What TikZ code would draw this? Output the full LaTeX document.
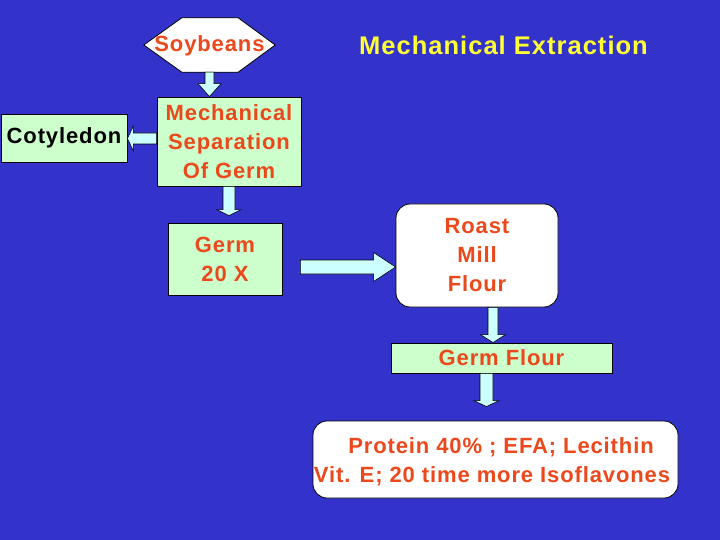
\documentclass[tikz,border=0pt]{standalone}
\usepackage{fontspec}
\setmainfont{Liberation Sans}[LetterSpace=4]
\usetikzlibrary{calc}
\definecolor{bg}{RGB}{51,51,204}
\definecolor{txtred}{RGB}{235,72,28}
\definecolor{boxgreen}{RGB}{204,255,204}
\definecolor{arrcyan}{RGB}{204,255,255}
\definecolor{ttl}{RGB}{255,255,51}
\newcommand\vblockarrow[5]{%
  \draw[blockarrow] let \p1=(#1), \p2=(#2) in
    (\x1-#3,\y1) -- (\x1-#3,\y2+#5) -- (\x1-#4,\y2+#5) -- (\x1,\y2) --
    (\x1+#4,\y2+#5) -- (\x1+#3,\y2+#5) -- (\x1+#3,\y1) -- cycle;}
\newcommand\hblockarrow[5]{%
  \draw[blockarrow] let \p1=(#1), \p2=(#2) in
    (\x1,\y1-#3) -- (\x2-#5,\y1-#3) -- (\x2-#5,\y1-#4) -- (\x2,\y1) --
    (\x2-#5,\y1+#4) -- (\x2-#5,\y1+#3) -- (\x1,\y1+#3) -- cycle;}
\begin{document}
\begin{tikzpicture}[x=1pt,y=-1pt,
  every node/.style={font=\fontsize{22}{29}\selectfont\bfseries, inner sep=0pt, align=center},
  gbox/.style={draw=black, line width=0.8pt, fill=boxgreen},
  wbox/.style={draw=black, line width=0.8pt, fill=white, rounded corners=14pt},
  hexa/.style={draw=black, line width=0.8pt, fill=white},
  blockarrow/.style={draw=black, line width=0.6pt, fill=arrcyan, line join=miter},
  rtext/.style={text=txtred},
  ktext/.style={text=black}]
\useasboundingbox (0,0) rectangle (720,540);
\fill[bg] (0,0) rectangle (720,540);
% title
\node[text=ttl, font=\fontsize{25.5}{30}\selectfont\bfseries] (title) at (503.5,45) {Mechanical Extraction};
% soybeans hexagon
\node[minimum width=131pt, minimum height=54pt] (soy) at (209.5,45) {};
\draw[hexa] (soy.west) -- ($(soy.north west)+(38,0)$) -- ($(soy.north east)+(-37,0)$) -- (soy.east)
  -- ($(soy.south east)+(-37,0)$) -- ($(soy.south west)+(38,0)$) -- cycle;
\node[rtext] (soytxt) at (209.5,46) {Soybeans};
% boxes
\node[gbox, rtext, minimum width=144pt, minimum height=89pt] (mechsep) at (229,141.5)
  {Mechanical\\Separation\\Of Germ};
\node[gbox, ktext, minimum width=126pt, minimum height=48pt] (coty) at (64,138) {Cotyledon};
\node[gbox, rtext, minimum width=114pt, minimum height=72pt] (germ) at (225,259) {Germ\\20 X};
\node[wbox, rtext, minimum width=162pt, minimum height=103pt] (roast) at (477,255.5) {Roast\\Mill\\Flour};
\node[gbox, rtext, minimum width=221pt, minimum height=30pt] (gflour) at (501.5,358) {Germ Flour};
\node[wbox, minimum width=365pt, minimum height=77pt] (final) at (495.5,459.5) {};
\node[rtext] (fline1) at (501,447) {Protein 40\% ; EFA; Lecithin};
\node[rtext] (fline2) at (492,476) {Vit. E; 20 time more Isoflavones};
% block arrows
\vblockarrow{soy.south}{mechsep.north}{4.5pt}{11.5pt}{13pt}
\hblockarrow{$(mechsep.west)+(0,-3)$}{coty.east}{5.5pt}{12.5pt}{-6pt}
\vblockarrow{mechsep.south}{$(germ.north)+(0,-7)$}{6pt}{12pt}{6pt}
\hblockarrow{$(germ.east)+(18,8)$}{roast.west}{7pt}{14.5pt}{22pt}
\vblockarrow{$(roast.south)+(16,0)$}{gflour.north}{5pt}{12.5pt}{8pt}
\vblockarrow{$(gflour.south)+(-15,0)$}{$(final.north)+(0,-14)$}{6.5pt}{12.5pt}{6pt}
\end{tikzpicture}
\end{document}
